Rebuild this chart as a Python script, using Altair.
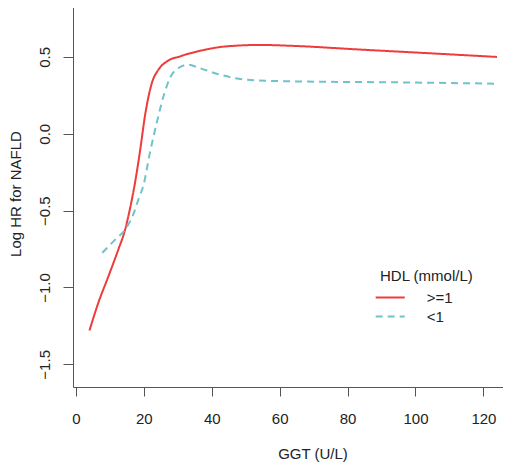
import altair as alt
import pandas as pd

# GGT (U/L) and log HR for NAFLD, HDL >= 1 mmol/L
ggt_high = [4, 6.6, 9.6, 12.5, 14.5, 16.0, 17.4, 18.9, 20.4, 22.3, 24.3, 26.8,
            30.7, 36.6, 44.4, 54.2, 64, 83.7, 103.3, 124]
hr_high = [-1.28, -1.10, -0.926, -0.753, -0.623, -0.48, -0.32, -0.11, 0.125,
           0.325, 0.417, 0.471, 0.504, 0.540, 0.569, 0.578, 0.572, 0.548, 0.525, 0.500]

# HDL < 1 mmol/L
ggt_low = [7.8, 11.5, 14.5, 16.9, 18.4, 19.9, 21.8, 23.8, 25.8, 27.7, 30.2, 33.1,
           36.1, 42.4, 50.3, 64, 93.5, 124]
hr_low = [-0.774, -0.69, -0.623, -0.525, -0.428, -0.335, -0.124, 0.071, 0.244,
          0.363, 0.428, 0.45, 0.43, 0.385, 0.352, 0.341, 0.335, 0.326]

groups = [">=1", "<1"]
colors = ["#EE3B3B", "#6EC3CD"]
x_ticks = [0, 20, 40, 60, 80, 100, 120]
y_ticks = [-1.5, -1.0, -0.5, 0.0, 0.5]

df = pd.concat([
    pd.DataFrame({"ggt": ggt_high, "hr": hr_high, "hdl": groups[0], "order": range(len(ggt_high))}),
    pd.DataFrame({"ggt": ggt_low, "hr": hr_low, "hdl": groups[1], "order": range(len(ggt_low))}),
])

FONT = "Liberation Sans"
TXT = "#222222"
LINE = "#555555"

legend = alt.Legend(
    title="HDL (mmol/L)", orient="none", legendX=307, legendY=266,
    titleFont=FONT, titleFontSize=15, titleFontWeight="normal", titleColor=TXT,
    titlePadding=6, rowPadding=3,
    labelFont=FONT, labelFontSize=15, labelColor=TXT, labelOffset=29,
    symbolType="M-2.5,0H2.5", symbolSize=135, symbolStrokeWidth=2, symbolOffset=2.7,
)

chart = alt.Chart(df).mark_line(strokeWidth=2, interpolate="monotone").encode(
    x=alt.X("ggt:Q",
            scale=alt.Scale(domain=[-0.85, 140.2], nice=False, zero=False),
            axis=alt.Axis(values=x_ticks, title="GGT (U/L)", grid=False, domain=False,
                          tickSize=9, tickColor=LINE, tickWidth=1,
                          labelFont=FONT, labelFontSize=15, labelColor=TXT, labelPadding=15,
                          titleFont=FONT, titleFontSize=15, titleFontWeight="normal",
                          titleColor=TXT, titleY=66, titleBaseline="middle")),
    y=alt.Y("hr:Q",
            scale=alt.Scale(domain=[-1.6475, 0.851], nice=False, zero=False),
            axis=alt.Axis(values=y_ticks, format=".1f", title="Log HR for NAFLD", grid=False,
                          domain=False, tickSize=10, tickColor=LINE, tickWidth=1,
                          labelFont=FONT, labelFontSize=15, labelColor=TXT, labelPadding=11,
                          labelAngle=270, labelAlign="center", labelBaseline="bottom",
                          titleFont=FONT, titleFontSize=15, titleFontWeight="normal",
                          titleColor=TXT, titleX=-57.5, titleY=190.5, titleAngle=270,
                          titleAlign="center", titleBaseline="middle")),
    color=alt.Color("hdl:N", scale=alt.Scale(domain=groups, range=colors), legend=legend),
    strokeDash=alt.StrokeDash("hdl:N", scale=alt.Scale(domain=groups, range=[[1, 0], [7, 5]]),
                              legend=legend),
    order="order:Q",
).properties(
    width=479, height=384,
    padding={"left": 65, "top": -5, "right": -49, "bottom": 76},
    autosize=alt.AutoSizeParams(type="none"),
).configure_view(stroke=LINE, strokeWidth=1)

chart.save("out.html", embed_options={"renderer": "svg", "actions": False})
